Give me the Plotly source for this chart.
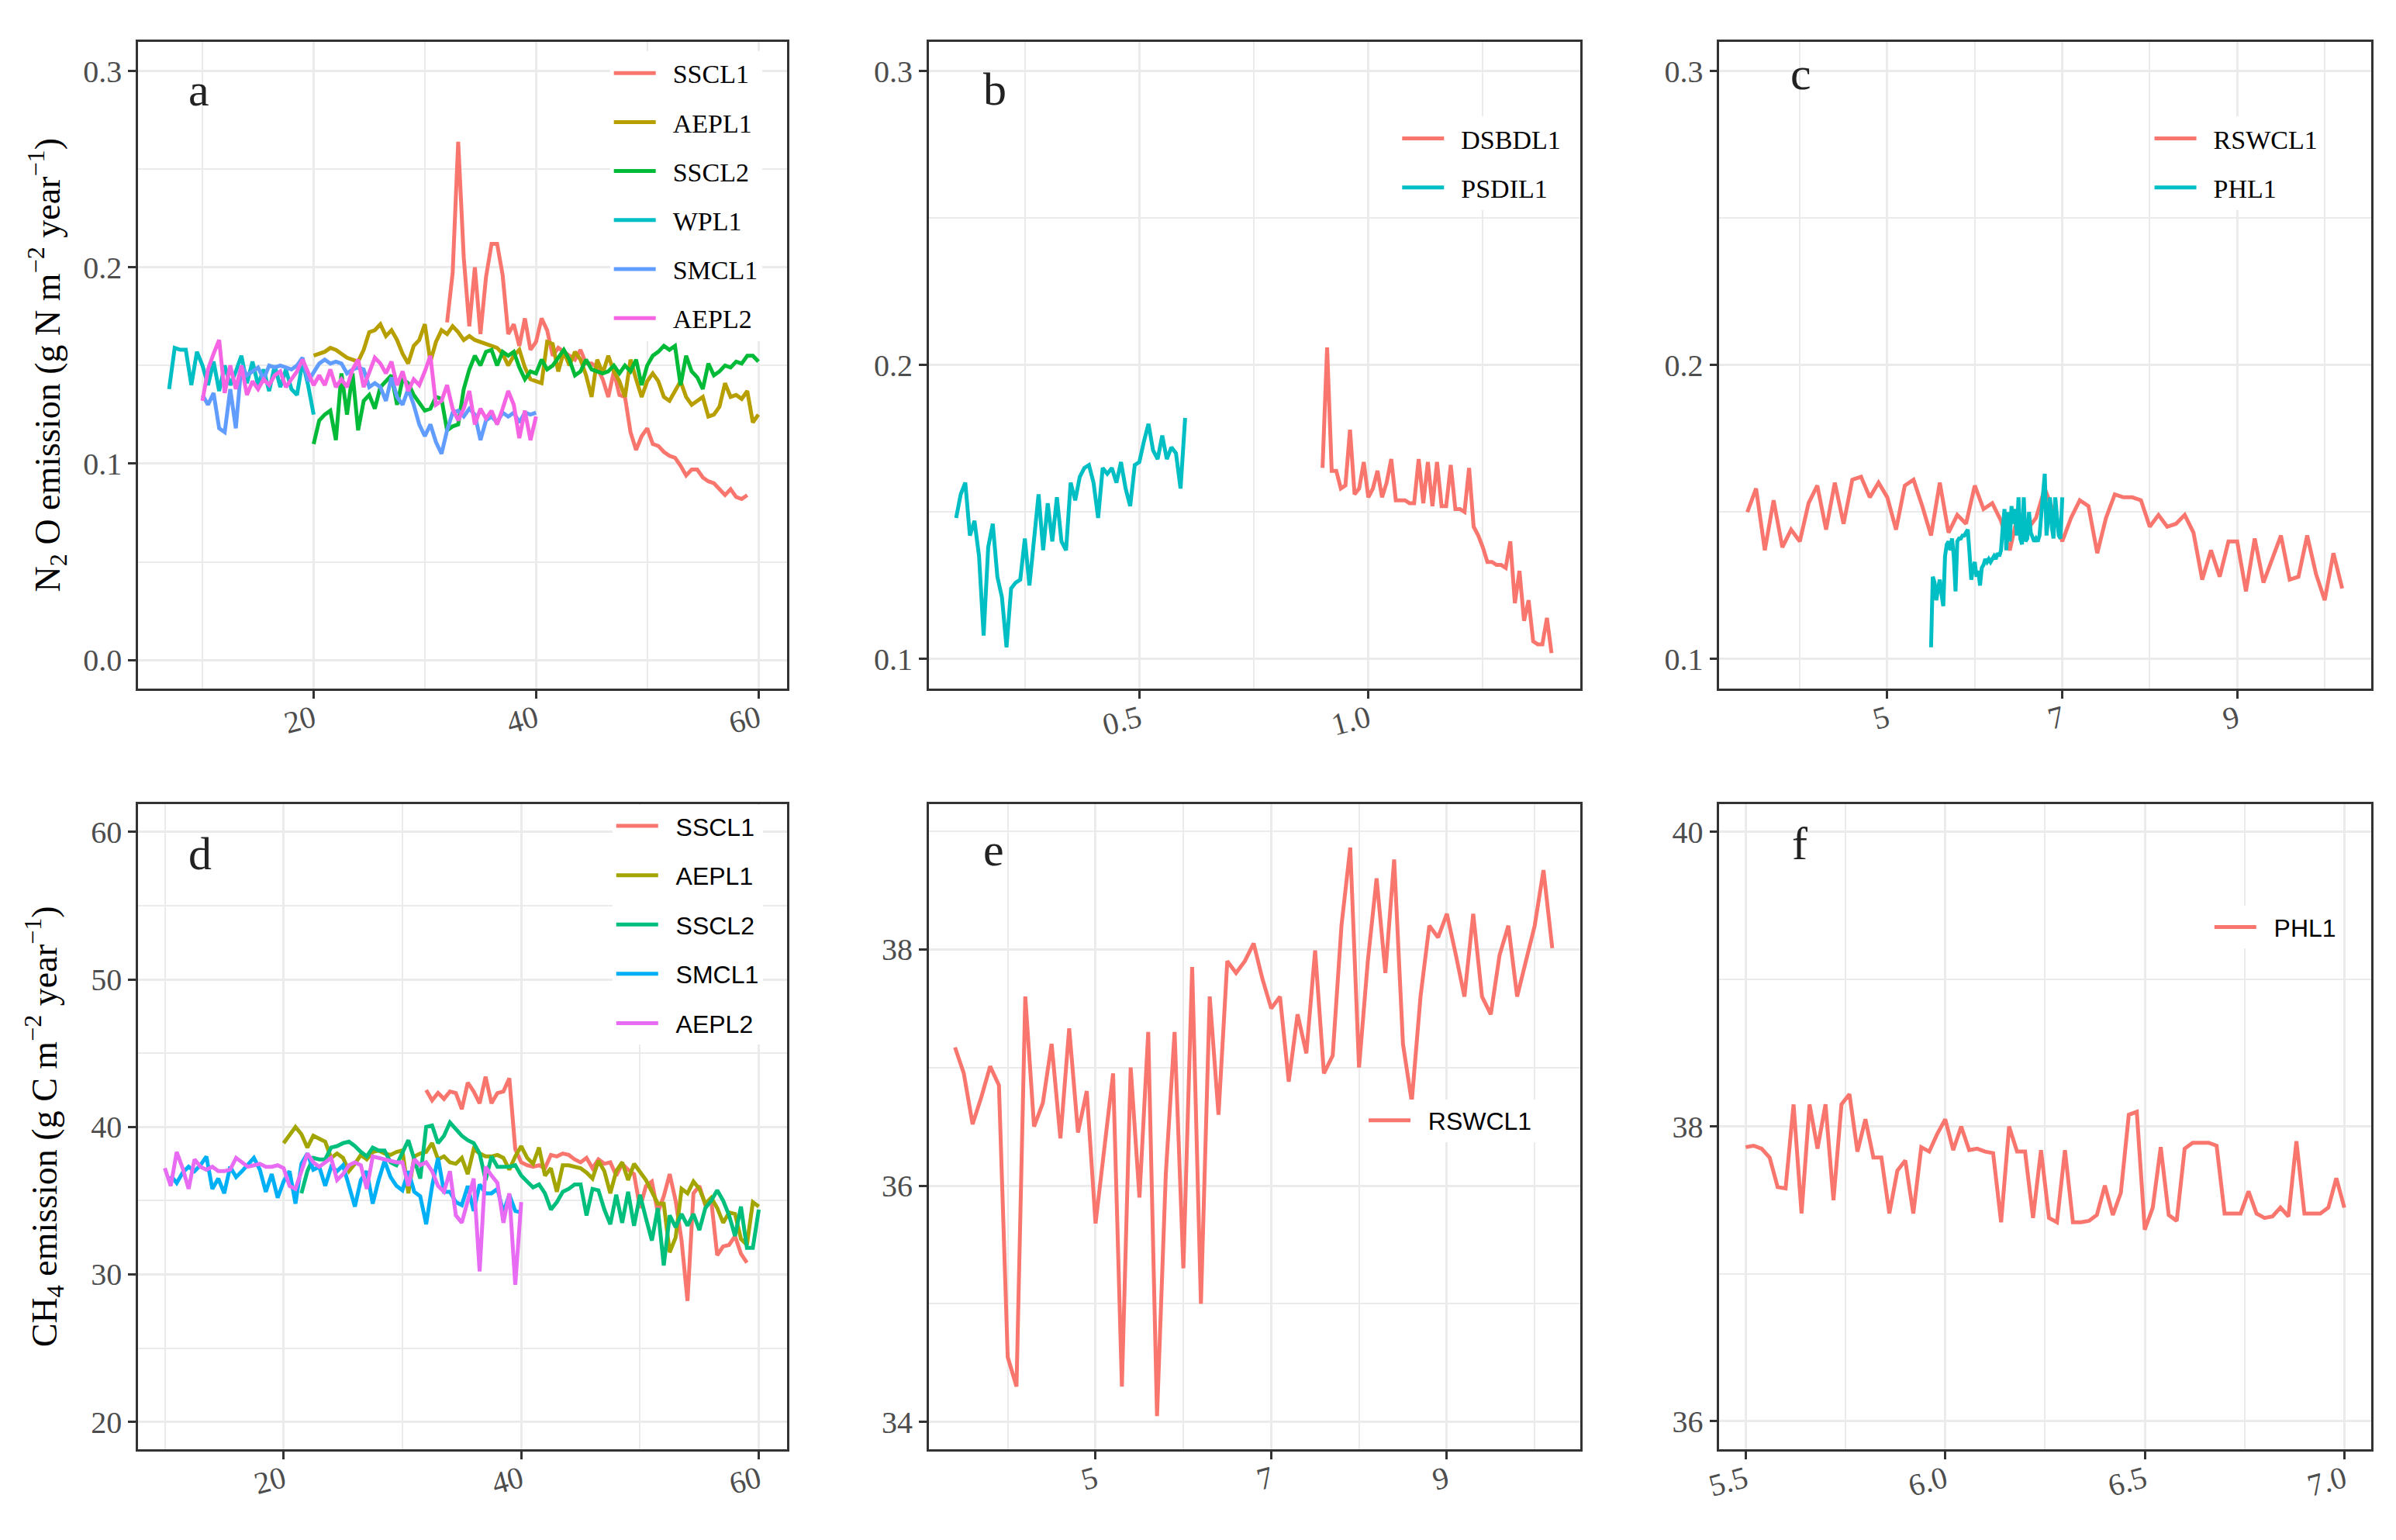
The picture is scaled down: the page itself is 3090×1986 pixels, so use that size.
import numpy as np
import plotly.graph_objects as go
from plotly.subplots import make_subplots


def grid(start, stop, step):
    # regular sampling positions along the x axis
    return np.round(np.arange(start, stop + step / 2, step), 3)


# ---- panel a : N2O, six sites ----
a_x_wpl1 = grid(7.0, 20.0, 0.5)
a_wpl1 = [0.138, 0.159, 0.158, 0.158, 0.140, 0.157, 0.150, 0.140, 0.152, 0.137,
          0.150, 0.140, 0.147, 0.155, 0.141, 0.152, 0.140, 0.148, 0.137, 0.150,
          0.139, 0.148, 0.138, 0.135, 0.152, 0.140, 0.125]

a_x_smcl1 = grid(10.0, 40.0, 0.5)
a_smcl1 = [0.135, 0.130, 0.136, 0.118, 0.116, 0.138, 0.118, 0.150, 0.145, 0.147,
           0.149, 0.143, 0.150, 0.149, 0.150, 0.149, 0.148, 0.150, 0.154, 0.142,
           0.147, 0.151, 0.153, 0.151, 0.152, 0.151, 0.146, 0.148, 0.149, 0.148,
           0.139, 0.141, 0.139, 0.132, 0.144, 0.134, 0.130, 0.138, 0.130, 0.120,
           0.114, 0.120, 0.111, 0.105, 0.117, 0.126, 0.127, 0.124, 0.128, 0.125,
           0.112, 0.122, 0.124, 0.121, 0.126, 0.124, 0.126, 0.121, 0.126, 0.125,
           0.126]

a_x_aepl2 = grid(10.0, 40.0, 0.5)
a_aepl2 = [0.132, 0.148, 0.156, 0.163, 0.136, 0.150, 0.138, 0.150, 0.135, 0.142,
           0.138, 0.143, 0.140, 0.145, 0.147, 0.139, 0.143, 0.147, 0.153, 0.147,
           0.140, 0.145, 0.140, 0.148, 0.139, 0.143, 0.139, 0.148, 0.153, 0.139,
           0.147, 0.154, 0.151, 0.146, 0.152, 0.140, 0.147, 0.137, 0.143, 0.140,
           0.147, 0.155, 0.130, 0.132, 0.140, 0.128, 0.122, 0.128, 0.137, 0.120,
           0.128, 0.123, 0.127, 0.120, 0.128, 0.137, 0.130, 0.113, 0.127, 0.112,
           0.124]

a_x_aepl1 = grid(20.0, 60.0, 0.5)
a_aepl1 = [0.155, 0.156, 0.157, 0.159, 0.158, 0.156, 0.154, 0.153, 0.152, 0.158,
           0.167, 0.168, 0.171, 0.165, 0.168, 0.163, 0.156, 0.151, 0.160, 0.163,
           0.171, 0.152, 0.162, 0.168, 0.166, 0.170, 0.167, 0.163, 0.165, 0.163,
           0.162, 0.161, 0.160, 0.159, 0.156, 0.150, 0.155, 0.158, 0.149, 0.143,
           0.142, 0.141, 0.162, 0.161, 0.147, 0.157, 0.150, 0.157, 0.153, 0.145,
           0.134, 0.153, 0.146, 0.155, 0.147, 0.142, 0.134, 0.153, 0.143, 0.134,
           0.142, 0.146, 0.142, 0.134, 0.132, 0.137, 0.142, 0.134, 0.130, 0.132,
           0.134, 0.124, 0.125, 0.129, 0.141, 0.134, 0.135, 0.133, 0.137, 0.121,
           0.125]

a_x_sscl2 = grid(20.0, 60.0, 0.5)
a_sscl2 = [0.110, 0.122, 0.125, 0.127, 0.112, 0.146, 0.125, 0.146, 0.117, 0.132,
           0.135, 0.128, 0.139, 0.142, 0.145, 0.130, 0.143, 0.141, 0.135, 0.131,
           0.127, 0.128, 0.134, 0.133, 0.117, 0.119, 0.120, 0.138, 0.148, 0.155,
           0.150, 0.157, 0.158, 0.150, 0.157, 0.155, 0.157, 0.149, 0.143, 0.147,
           0.146, 0.153, 0.148, 0.150, 0.154, 0.158, 0.153, 0.145, 0.147, 0.153,
           0.148, 0.147, 0.146, 0.147, 0.150, 0.146, 0.150, 0.147, 0.153, 0.140,
           0.150, 0.155, 0.157, 0.160, 0.158, 0.160, 0.140, 0.155, 0.147, 0.144,
           0.138, 0.151, 0.145, 0.147, 0.150, 0.149, 0.152, 0.151, 0.155, 0.155,
           0.152]

a_x_sscl1 = grid(32.0, 59.0, 0.5)
a_sscl1 = [0.172, 0.197, 0.264, 0.205, 0.170, 0.200, 0.166, 0.195, 0.212, 0.212,
           0.196, 0.166, 0.171, 0.160, 0.174, 0.158, 0.162, 0.174, 0.168, 0.155,
           0.159, 0.157, 0.155, 0.153, 0.158, 0.151, 0.151, 0.149, 0.143, 0.134,
           0.147, 0.135, 0.134, 0.116, 0.107, 0.114, 0.118, 0.110, 0.109, 0.106,
           0.104, 0.103, 0.099, 0.094, 0.097, 0.097, 0.093, 0.091, 0.090, 0.087,
           0.084, 0.087, 0.083, 0.082, 0.084]

# ---- panel b : N2O ----
b_x_psdil1 = grid(0.10, 0.60, 0.01)
b_psdil1 = [0.148, 0.156, 0.160, 0.142, 0.147, 0.135, 0.108, 0.138, 0.146, 0.128,
            0.121, 0.104, 0.124, 0.126, 0.127, 0.141, 0.125, 0.140, 0.156, 0.137,
            0.153, 0.140, 0.155, 0.140, 0.137, 0.160, 0.154, 0.162, 0.165, 0.166,
            0.160, 0.148, 0.165, 0.163, 0.165, 0.160, 0.167, 0.158, 0.152, 0.166,
            0.167, 0.174, 0.180, 0.171, 0.168, 0.176, 0.168, 0.172, 0.170, 0.158,
            0.182]

b_x_dsbdl1 = grid(0.90, 1.40, 0.01)
b_dsbdl1 = [0.165, 0.206, 0.164, 0.164, 0.158, 0.159, 0.178, 0.156, 0.158, 0.167,
            0.155, 0.158, 0.164, 0.155, 0.160, 0.168, 0.154, 0.154, 0.154, 0.153,
            0.153, 0.168, 0.153, 0.167, 0.152, 0.167, 0.152, 0.152, 0.166, 0.151,
            0.151, 0.150, 0.165, 0.145, 0.142, 0.138, 0.133, 0.133, 0.132, 0.132,
            0.131, 0.140, 0.119, 0.130, 0.113, 0.120, 0.106, 0.105, 0.105, 0.114,
            0.102]

# ---- panels c / e : RSWCL1, panels c / f : PHL1 ----
x_rswcl1 = grid(3.4, 10.2, 0.1)
c_rswcl1 = [0.150, 0.158, 0.137, 0.154, 0.138, 0.144,
            0.140, 0.153, 0.159, 0.144, 0.160, 0.146, 0.161, 0.162, 0.155, 0.160,
            0.155, 0.144, 0.159, 0.161, 0.152, 0.142, 0.160, 0.143, 0.149, 0.146,
            0.159, 0.151, 0.153, 0.147, 0.137, 0.150, 0.144, 0.148, 0.158, 0.150,
            0.140, 0.148, 0.154, 0.152, 0.136, 0.148, 0.156, 0.155, 0.155, 0.154,
            0.145, 0.149, 0.145, 0.146, 0.149, 0.143, 0.127, 0.137, 0.128, 0.140,
            0.140, 0.123, 0.141, 0.126, 0.134, 0.142, 0.127, 0.128, 0.142, 0.129,
            0.120, 0.136, 0.124]

x_phl1 = grid(5.50, 7.00, 0.02)
c_phl1 = [0.104, 0.128, 0.126, 0.120, 0.124, 0.127, 0.122, 0.118, 0.135, 0.139,
          0.140, 0.137, 0.141, 0.135, 0.123, 0.140, 0.141, 0.141, 0.142, 0.142,
          0.143, 0.144, 0.136, 0.127, 0.131, 0.133, 0.128, 0.130, 0.125, 0.131,
          0.132, 0.134, 0.133, 0.134, 0.133, 0.134, 0.135, 0.134, 0.136, 0.135,
          0.137, 0.145, 0.151, 0.137, 0.150, 0.140, 0.152, 0.146, 0.151, 0.142,
          0.155, 0.141, 0.139, 0.155, 0.140, 0.141, 0.150, 0.143, 0.141, 0.140,
          0.141, 0.140, 0.142, 0.150, 0.158, 0.163, 0.142, 0.149, 0.155, 0.145,
          0.141, 0.155, 0.148, 0.142, 0.141, 0.155]

# ---- panel d : CH4, five sites ----
d_x_sscl1 = grid(32.0, 59.0, 0.5)
d_sscl1 = [42.5, 41.8, 42.3, 41.9, 42.4, 42.3, 41.2, 43.0, 42.4, 41.6,
           43.4, 41.6, 42.3, 42.4, 43.3, 38.5, 37.6, 37.4, 37.3, 37.4,
           37.2, 38.1, 38.0, 38.2, 38.1, 37.8, 37.6, 37.9, 37.2, 37.8,
           37.5, 37.6, 36.7, 37.5, 37.1, 36.8, 34.5, 36.0, 36.3, 34.2,
           35.3, 36.8, 35.0, 32.3, 28.2, 35.5, 36.0, 34.7, 35.0, 31.3,
           31.9, 32.0, 32.6, 31.4, 30.8]

d_x_aepl1 = grid(20.0, 60.0, 0.5)
d_aepl1 = [38.9, 39.4, 40.0, 39.5, 38.6, 39.4, 39.2, 39.0, 37.9, 38.2,
           37.9, 37.0, 37.5, 38.1, 37.8, 38.3, 38.4, 38.2, 38.1, 38.3,
           38.4, 35.5, 38.0, 38.2, 38.3, 38.9, 37.8, 38.0, 37.6, 37.5,
           37.9, 36.8, 38.5, 38.2, 38.0, 38.0, 38.1, 37.9, 37.1, 38.0,
           38.7, 37.9, 37.5, 38.6, 36.7, 37.2, 35.6, 37.4, 37.4, 37.3,
           37.2, 36.9, 36.5, 37.7, 37.0, 35.5, 37.0, 37.6, 36.4, 37.5,
           37.0, 36.4, 35.6, 34.8, 34.8, 31.5, 32.5, 35.8, 35.5, 36.3,
           35.8, 34.8, 35.2, 34.5, 33.5, 34.2, 34.1, 32.4, 32.0, 34.9,
           34.6]

d_x_sscl2 = grid(21.5, 60.0, 0.5)
d_sscl2 = [35.5, 37.0, 37.9, 37.8, 37.8, 38.6,
           38.7, 38.9, 39.0, 38.7, 38.3, 38.0, 38.6, 38.4, 38.4, 37.6,
           37.4, 38.3, 39.1, 37.8, 36.5, 40.0, 40.1, 38.9, 39.4, 40.3,
           39.8, 39.4, 39.1, 38.9, 38.2, 36.4, 38.0, 37.3, 37.3, 37.3,
           37.4, 36.7, 36.3, 35.9, 36.1, 35.5, 34.4, 34.9, 35.6, 35.8,
           36.1, 36.1, 34.0, 35.8, 35.7, 34.4, 33.4, 35.4, 33.5, 35.6,
           33.3, 35.4, 33.8, 32.3, 34.5, 30.6, 34.0, 33.2, 34.1, 33.3,
           34.1, 33.0, 34.5, 35.0, 35.7, 35.0, 34.0, 32.6, 34.6, 31.8,
           31.8, 34.4]

d_x_smcl1 = grid(10.5, 40.0, 0.5)
d_smcl1 = [36.7, 36.2, 36.9, 37.3, 37.0, 37.4, 38.0, 35.8, 36.5,
           35.5, 37.3, 36.6, 37.0, 37.5, 37.9, 37.1, 35.6, 36.8, 35.2,
           36.3, 37.0, 34.8, 37.5, 38.2, 37.1, 37.3, 36.0, 37.3, 37.0,
           37.4, 36.0, 34.6, 36.4, 37.0, 34.8, 36.4, 37.7, 36.6, 36.0,
           35.7, 37.0, 35.6, 35.3, 33.4, 36.0, 37.9, 35.6, 35.6, 34.9,
           34.7, 36.0, 34.3, 36.1, 35.5, 35.5, 35.8, 34.2, 35.4, 34.3,
           34.2]

d_x_aepl2 = grid(10.0, 40.0, 0.5)
d_aepl2 = [37.2, 36.0, 38.3, 37.2, 35.8, 37.8, 37.3, 37.1, 37.3, 37.0,
           37.0, 37.1, 37.9, 37.6, 37.3, 37.4, 37.5, 37.3, 37.3, 37.4,
           37.2, 36.0, 35.8, 37.0, 38.2, 37.6, 37.3, 37.6, 37.9, 36.4,
           36.8, 37.4, 37.6, 37.4, 35.8, 38.0, 37.9, 37.8, 37.7, 37.6,
           37.6, 36.0, 37.8, 37.4, 37.6, 37.0, 36.0, 35.6, 37.0, 34.0,
           33.5, 35.0, 36.5, 30.2, 37.3, 36.7, 36.2, 33.5, 35.5, 29.3,
           34.9]

# ---- panel e : CH4 RSWCL1 ----
e_rswcl1 = [37.17, 36.95, 36.52, 36.75, 37.01, 36.85,
            34.55, 34.30, 37.60, 36.50, 36.70, 37.20, 36.40, 37.33, 36.45, 36.80,
            35.68, 36.30, 36.95, 34.30, 37.00, 35.90, 37.30, 34.05, 36.10, 37.30,
            35.30, 37.85, 35.00, 37.60, 36.60, 37.90, 37.80, 37.90, 38.05, 37.75,
            37.50, 37.60, 36.88, 37.45, 37.12, 37.99, 36.95, 37.10, 38.20, 38.86,
            37.00, 37.90, 38.60, 37.80, 38.76, 37.20, 36.71, 37.60, 38.20, 38.10,
            38.30, 37.96, 37.60, 38.30, 37.60, 37.45, 37.95, 38.20, 37.60, 37.90,
            38.20, 38.67, 38.01]

# ---- panel f : CH4 PHL1 ----
f_phl1 = [37.86, 37.87, 37.85, 37.79, 37.59, 37.58, 38.15, 37.41, 38.15, 37.85,
          38.15, 37.50, 38.15, 38.22, 37.83, 38.05, 37.79, 37.79, 37.41, 37.70,
          37.77, 37.41, 37.86, 37.83, 37.95, 38.05, 37.84, 38.00, 37.84, 37.85,
          37.83, 37.82, 37.35, 38.00, 37.83, 37.83, 37.38, 37.84, 37.38, 37.35,
          37.84, 37.35, 37.35, 37.36, 37.40, 37.60, 37.40, 37.55, 38.08, 38.10,
          37.30, 37.45, 37.86, 37.40, 37.36, 37.85, 37.89, 37.89, 37.89, 37.87,
          37.41, 37.41, 37.41, 37.56, 37.41, 37.38, 37.39, 37.45, 37.39, 37.90,
          37.41, 37.41, 37.41, 37.45, 37.65, 37.45]

SERIF = "Liberation Serif"
SANS = "Liberation Sans"
GRID = "#EBEBEB"
BORDER = "#333333"
TICK_TXT = "#4D4D4D"
PAD = "\u00a0\u00a0"  # gap between legend key and label

fig = make_subplots(rows=2, cols=3)


def add_lines(row, col, legend, series):
    for name, x, y, color in series:
        fig.add_trace(go.Scatter(x=x, y=y, mode="lines", name=PAD + name,
                                 line=dict(color=color, width=5),
                                 legend=legend, legendgroup=legend + name),
                      row=row, col=col)


add_lines(1, 1, "legend", [
    ("SSCL1", a_x_sscl1, a_sscl1, "#F8766D"),
    ("AEPL1", a_x_aepl1, a_aepl1, "#B79F00"),
    ("SSCL2", a_x_sscl2, a_sscl2, "#00BA38"),
    ("WPL1", a_x_wpl1, a_wpl1, "#00BFC4"),
    ("SMCL1", a_x_smcl1, a_smcl1, "#619CFF"),
    ("AEPL2", a_x_aepl2, a_aepl2, "#F564E3"),
])
add_lines(1, 2, "legend2", [
    ("DSBDL1", b_x_dsbdl1, b_dsbdl1, "#F8766D"),
    ("PSDIL1", b_x_psdil1, b_psdil1, "#00BFC4"),
])
add_lines(1, 3, "legend3", [
    ("RSWCL1", x_rswcl1, c_rswcl1, "#F8766D"),
    ("PHL1", x_phl1, c_phl1, "#00BFC4"),
])
add_lines(2, 1, "legend4", [
    ("SSCL1", d_x_sscl1, d_sscl1, "#F8766D"),
    ("AEPL1", d_x_aepl1, d_aepl1, "#A3A500"),
    ("SSCL2", d_x_sscl2, d_sscl2, "#00BF7D"),
    ("SMCL1", d_x_smcl1, d_smcl1, "#00B0F6"),
    ("AEPL2", d_x_aepl2, d_aepl2, "#E76BF3"),
])
add_lines(2, 2, "legend5", [("RSWCL1", x_rswcl1, e_rswcl1, "#F8766D")])
add_lines(2, 3, "legend6", [("PHL1", x_phl1, f_phl1, "#F8766D")])

axis_common = dict(showline=True, mirror=True, linecolor=BORDER, linewidth=2.5,
                   ticks="outside", ticklen=10, tickwidth=2.5, tickcolor=BORDER,
                   showgrid=True, gridcolor=GRID, gridwidth=3, zeroline=False,
                   automargin=False,
                   tickfont=dict(family=SERIF, size=40, color=TICK_TXT))

col_dom = [[0.055, 0.326], [0.385, 0.657], [0.715, 0.987]]
row_dom = [[0.557, 0.977], [0.063, 0.482]]

# (xrange, xdtick, xformat, yrange, ydtick, yformat) per panel
axes = [
    ([4.2, 62.6], 20, "", [-0.0145, 0.315], 0.1, ".1f"),
    ([0.04, 1.463], 0.5, ".1f", [0.09, 0.31], 0.1, ".1f"),
    ([3.08, 10.53], 2, "", [0.09, 0.31], 0.1, ".1f"),
    ([7.74, 62.4], 20, "", [18.15, 61.9], 10, ""),
    ([3.1, 10.52], 2, "", [33.77, 39.23], 2, ""),
    ([5.434, 7.067], 0.5, ".1f", [35.81, 40.19], 2, ""),
]
x_tick0 = [0, 0, 1, 0, 1, 0]

for i, (xr, xd, xf, yr, yd, yf) in enumerate(axes):
    n = "" if i == 0 else str(i + 1)
    r, c = divmod(i, 3)
    fig.layout["xaxis" + n].update(
        axis_common, domain=col_dom[c], range=xr, tick0=x_tick0[i], dtick=xd,
        tickformat=xf, tickangle=-15, ticklabelstandoff=-12,
        minor=dict(showgrid=True, gridcolor=GRID, gridwidth=1.5,
                   tick0=x_tick0[i], dtick=xd / 2))
    fig.layout["yaxis" + n].update(
        axis_common, domain=row_dom[r], range=yr, tick0=0, dtick=yd,
        tickformat=yf,
        minor=dict(showgrid=True, gridcolor=GRID, gridwidth=1.5, tick0=0, dtick=yd / 2))

title_font = dict(family=SERIF, size=46, color="black")
fig.layout.yaxis.title = dict(
    text="N<sub>2</sub> O emission (g N m<sup>\u22122</sup> year<sup>\u22121</sup>)",
    font=title_font, standoff=16)
fig.layout.yaxis4.title = dict(
    text="CH<sub>4</sub> emission (g C m<sup>\u22122</sup> year<sup>\u22121</sup>)",
    font=title_font, standoff=30)


def legend_cfg(x, y, family, size, yanchor="top", gap=16):
    return dict(x=x, y=y, xanchor="left", yanchor=yanchor, bgcolor="white",
                borderwidth=0, traceorder="grouped", tracegroupgap=gap,
                itemwidth=54,
                font=dict(family=family, size=size, color="black"))


fig.update_layout(
    width=3090, height=1986,
    margin=dict(l=0, r=0, t=0, b=0),
    paper_bgcolor="white", plot_bgcolor="white",
    legend=legend_cfg(0.252, 0.971, SERIF, 34),
    legend2=legend_cfg(0.581, 0.9285, SERIF, 34),
    legend3=legend_cfg(0.895, 0.9285, SERIF, 34),
    legend4=legend_cfg(0.253, 0.4815, SANS, 32, gap=19),
    legend5=legend_cfg(0.567, 0.2764, SANS, 32, "middle"),
    legend6=legend_cfg(0.920, 0.402, SANS, 32, "middle"),
)

# panel letters
letters = [("a", 0.0803, 0.9456), ("b", 0.4126, 0.946), ("c", 0.749, 0.956),
           ("d", 0.0809, 0.4496), ("e", 0.412, 0.452), ("f", 0.7485, 0.456)]
for txt, lx, ly in letters:
    fig.add_annotation(text=txt, x=lx, y=ly, xref="paper", yref="paper",
                       showarrow=False, xanchor="center", yanchor="middle",
                       font=dict(family=SERIF, size=60, color="#222222"))

fig.write_html("out.html")
